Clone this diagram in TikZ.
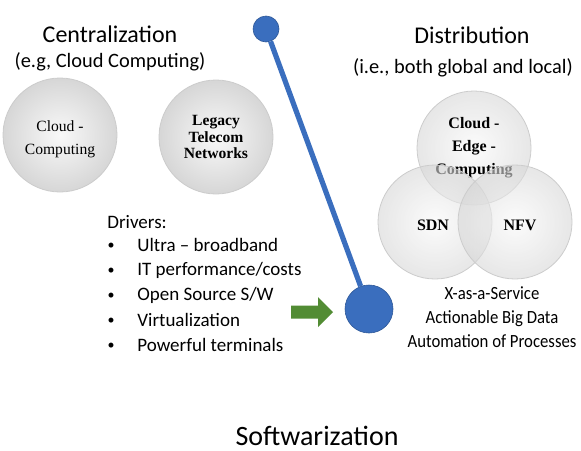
\documentclass[tikz,border=0pt]{standalone}
\usepackage{fontspec}
\setmainfont{Carlito}
\newfontfamily\condf{Carlito}[FakeStretch=0.9]
\newfontfamily\timesf{Liberation Serif}
\definecolor{stickblue}{RGB}{58,110,190}
\definecolor{arrowgreen}{RGB}{82,140,52}
\tikzset{
  disc/.style={circle,minimum size=57pt,inner sep=0pt,align=center,
    shading=radial,inner color=gray!5,outer color=gray!32,
    draw=gray!40,line width=0.4pt,
    font=\timesf\fontsize{7.8}{8.4}\selectfont},
  vdisc/.style={disc,fill opacity=0.6,text opacity=1,
    font=\timesf\bfseries\fontsize{8}{11.5}\selectfont},
  ball/.style={circle,inner sep=0pt,fill=stickblue,draw=stickblue!80!black,line width=0.3pt},
  head/.style={font=\fontsize{12}{14}\selectfont},
  sub/.style={font=\fontsize{10.2}{12}\selectfont},
  item/.style={anchor=west,inner sep=0pt,font=\fontsize{9.5}{11}\selectfont},
  dot/.style={inner sep=0pt,font=\fontsize{7}{8}\selectfont},
}
\begin{document}
\begin{tikzpicture}[x=0.5pt,y=-0.5pt]
\useasboundingbox (0,0) rectangle (581,450);
%\draw[step=50,gray,very thin] (0,0) grid (581,450);
% left side
\node[head] (central) at (110,34) {Centralization};
\node[sub] (eg) at (110,62) {(e.g, Cloud Computing)};
\node[disc] (cloud) at (60,135) {\\[1pt]Cloud -\\[3pt]Computing};
\node[disc,font=\timesf\bfseries\fontsize{7.8}{8.2}\selectfont] (legacy) at (216,137) {Legacy\\Telecom\\Networks};
% drivers
\node[item] (drivers) at (107,222) {Drivers:};
\node[dot] (b1) at (111,246) {\textbullet};
\node[dot] (b2) at (111,271) {\textbullet};
\node[dot] (b3) at (111,296) {\textbullet};
\node[dot] (b4) at (111,321) {\textbullet};
\node[dot] (b5) at (111,346) {\textbullet};
\node[item] (d1) at (137,245) {Ultra -- broadband};
\node[item] (d2) at (137,270) {IT performance/costs};
\node[item] (d3) at (137,295) {Open Source S/W};
\node[item] (d4) at (137,320) {Virtualization};
\node[item] (d5) at (137,345) {Powerful terminals};
% right side
\node[head] (distrib) at (472,35) {Distribution};
\node[sub] (ie) at (463,68) {(i.e., both global and local)};
\node[vdisc] (edge) at (474,148) {Cloud -\\Edge -\\Computing};
\node[vdisc] (sdn) at (435,222) {};
\node[vdisc] (nfv) at (515,222) {};
\node[font=\timesf\bfseries\fontsize{8}{9}\selectfont] (sdnlbl) at (433,225) {SDN};
\node[font=\timesf\bfseries\fontsize{8}{9}\selectfont] (nfvlbl) at (520,225) {NFV};
\node[font=\condf\fontsize{9.3}{12}\selectfont,align=center] (xaas) at (492,317) {X-as-a-Service\\Actionable Big Data\\Automation of Processes};
% blue stick
\node[ball,minimum size=13pt] (topball) at (266,29) {};
\node[ball,minimum size=24pt] (botball) at (369,309) {};
\draw[stickblue,line width=2.6pt] (topball) -- (botball);
% green arrow
\fill[arrowgreen] (291,305.5)--(318,305.5)--(318,297)--(333,312)--(318,327)--(318,318.5)--(291,318.5)--cycle;
% bottom
\node[font=\fontsize{14}{16}\selectfont] (soft) at (317,436) {Softwarization};
\end{tikzpicture}
\end{document}
